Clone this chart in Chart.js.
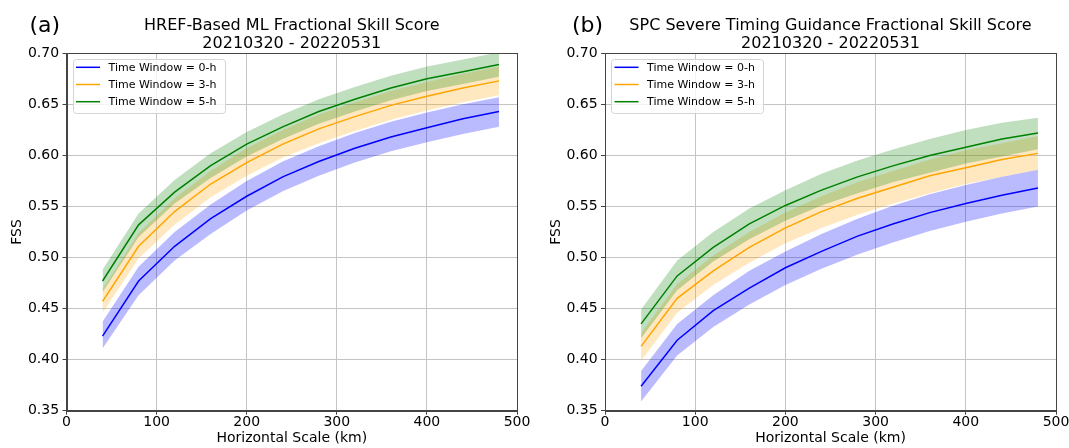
<!DOCTYPE html>
<html lang="en">
<head>
  <meta charset="UTF-8" />
  <title>Fractional Skill Score</title>
  <script src="https://cdn.jsdelivr.net/npm/chart.js"></script>
  <style>
    body {
      margin: 0;
      background: #fff;
      width: 1069px;
      height: 448px;
      overflow: hidden;
      position: relative;
    }
    .panel { position: absolute; top: 0; height: 448px; }
    #panelA { left: 0; width: 535px; }
    #panelB { left: 535px; width: 540px; }
  </style>
</head>
<body>
  <div class="panel" id="panelA"><canvas id="chartA"></canvas></div>
  <div class="panel" id="panelB"><canvas id="chartB"></canvas></div>

  <script>
    // horizontal scale (km)
    const scalesKm = [40, 80, 120, 160, 200, 240, 280, 320, 360, 400, 440, 480];
    const windowLabels = ["Time Window = 0-h", "Time Window = 3-h", "Time Window = 5-h"];

    // (a) HREF-based ML
    const hrefMean0 = [0.423, 0.477, 0.511, 0.538, 0.560, 0.579, 0.594, 0.607, 0.618, 0.627, 0.636, 0.643];
    const hrefLow0  = [0.411, 0.463, 0.497, 0.523, 0.546, 0.565, 0.580, 0.593, 0.604, 0.613, 0.621, 0.628];
    const hrefHigh0 = [0.437, 0.491, 0.525, 0.552, 0.575, 0.594, 0.609, 0.622, 0.633, 0.642, 0.650, 0.657];
    const hrefMean3 = [0.457, 0.511, 0.545, 0.572, 0.593, 0.611, 0.626, 0.638, 0.649, 0.658, 0.666, 0.673];
    const hrefLow3  = [0.446, 0.499, 0.532, 0.559, 0.580, 0.598, 0.612, 0.624, 0.635, 0.644, 0.652, 0.659];
    const hrefHigh3 = [0.469, 0.524, 0.558, 0.585, 0.607, 0.625, 0.640, 0.652, 0.663, 0.672, 0.680, 0.687];
    const hrefMean5 = [0.477, 0.532, 0.564, 0.590, 0.611, 0.628, 0.643, 0.655, 0.666, 0.675, 0.682, 0.689];
    const hrefLow5  = [0.466, 0.520, 0.553, 0.578, 0.599, 0.616, 0.631, 0.643, 0.654, 0.663, 0.670, 0.677];
    const hrefHigh5 = [0.488, 0.543, 0.576, 0.602, 0.623, 0.640, 0.655, 0.667, 0.678, 0.687, 0.694, 0.701];

    // (b) SPC severe timing guidance
    const spcMean0 = [0.374, 0.419, 0.448, 0.470, 0.490, 0.506, 0.521, 0.533, 0.544, 0.553, 0.561, 0.568];
    const spcLow0  = [0.359, 0.404, 0.432, 0.454, 0.473, 0.489, 0.503, 0.515, 0.526, 0.535, 0.543, 0.550];
    const spcHigh0 = [0.389, 0.435, 0.463, 0.487, 0.506, 0.523, 0.538, 0.551, 0.562, 0.571, 0.579, 0.586];
    const spcMean3 = [0.413, 0.460, 0.487, 0.510, 0.529, 0.545, 0.558, 0.569, 0.580, 0.588, 0.596, 0.602];
    const spcLow3  = [0.399, 0.446, 0.473, 0.495, 0.514, 0.529, 0.542, 0.553, 0.563, 0.572, 0.579, 0.586];
    const spcHigh3 = [0.426, 0.474, 0.502, 0.525, 0.544, 0.560, 0.574, 0.585, 0.596, 0.605, 0.612, 0.619];
    const spcMean5 = [0.435, 0.482, 0.510, 0.533, 0.551, 0.566, 0.579, 0.590, 0.600, 0.608, 0.616, 0.622];
    const spcLow5  = [0.421, 0.468, 0.496, 0.518, 0.536, 0.551, 0.563, 0.574, 0.583, 0.592, 0.599, 0.606];
    const spcHigh5 = [0.449, 0.497, 0.525, 0.548, 0.566, 0.582, 0.595, 0.606, 0.616, 0.625, 0.632, 0.637];

    const lineColors = ["#0000ff", "#ffa500", "#008000"];
    const bandColors = ["rgba(0, 0, 255, 0.27)", "rgba(255, 165, 0, 0.25)", "rgba(0, 128, 0, 0.25)"];

    Chart.defaults.font.family = "'DejaVu Sans', sans-serif";
    Chart.defaults.color = "#000";

    const pts = arr => arr.map((v, i) => ({ x: scalesKm[i], y: v }));

    // frame, titles, panel letter and matplotlib-like legend
    const panelDeco = {
      id: "panelDeco",
      afterDraw(chart, args, opts) {
        const { ctx, chartArea: a } = chart;
        ctx.save();
        ctx.strokeStyle = "#444";
        ctx.lineWidth = 1;
        ctx.strokeRect(Math.round(a.left) + 0.5, Math.round(a.top) + 0.5,
          Math.round(a.right) - Math.round(a.left), Math.round(a.bottom) - Math.round(a.top));

        ctx.fillStyle = "#000";
        ctx.textBaseline = "middle";
        ctx.textAlign = "center";
        ctx.font = "16px 'DejaVu Sans'";
        const cx = (a.left + a.right) / 2;
        opts.title.forEach((t, i) => ctx.fillText(t, cx, 26 + i * 17.5));

        ctx.textAlign = "left";
        ctx.font = "22px 'DejaVu Sans'";
        ctx.fillText(opts.letter, opts.letterX, 26);

        // legend
        const lx = Math.round(a.left + 6) + 0.5, ly = Math.round(a.top + 5.7) + 0.5;
        ctx.beginPath();
        ctx.roundRect(lx, ly, 152, 54, 3);
        ctx.fillStyle = "rgba(255, 255, 255, 0.8)";
        ctx.fill();
        ctx.strokeStyle = "#d4d4d4";
        ctx.stroke();
        ctx.font = "11px 'DejaVu Sans'";
        const lines = chart.data.datasets.filter(d => d.label);
        lines.forEach((d, i) => {
          const y = a.top + 14 + i * 17.2;
          ctx.strokeStyle = d.borderColor;
          ctx.lineWidth = 1.5;
          ctx.beginPath();
          ctx.moveTo(a.left + 9.5, y);
          ctx.lineTo(a.left + 33.5, y);
          ctx.stroke();
          ctx.fillStyle = "#000";
          ctx.fillText(d.label, a.left + 42, y + 0.5);
        });
        ctx.restore();
      }
    };

    function makeChart(id, means, lows, highs, deco, pad) {
      const datasets = [];
      means.forEach((m, i) => {
        datasets.push({
          label: windowLabels[i],
          data: pts(m),
          borderColor: lineColors[i],
          borderWidth: 1.5,
          pointRadius: 0,
          fill: false
        });
      });
      // bands: green on top of orange on top of blue
      [2, 1, 0].forEach(i => {
        datasets.push({
          label: "",
          data: pts(highs[i]),
          borderWidth: 0,
          pointRadius: 0,
          backgroundColor: bandColors[i],
          fill: "+1"
        });
        datasets.push({
          label: "",
          data: pts(lows[i]),
          borderWidth: 0,
          pointRadius: 0,
          fill: false
        });
      });

      return new Chart(document.getElementById(id), {
        type: "line",
        data: { datasets },
        plugins: [panelDeco],
        options: {
          responsive: true,
          maintainAspectRatio: false,
          animation: false,
          layout: { padding: pad },
          plugins: {
            legend: { display: false },
            tooltip: { enabled: false },
            panelDeco: deco
          },
          scales: {
            x: {
              type: "linear",
              min: 0,
              max: 500,
              afterFit(s) { s.height = 37.3; },
              ticks: { stepSize: 100, padding: -1, color: "#000", font: { size: 14 }, maxRotation: 0 },
              grid: { color: "#c4c4c4", tickLength: 4, tickColor: "#444", tickWidth: 1 },
              border: { display: true, color: "#444" },
              title: { display: true, text: "Horizontal Scale (km)", font: { size: 14 }, color: "#000", padding: { top: 0, bottom: 1 } }
            },
            y: {
              type: "linear",
              min: 0.35,
              max: 0.70,
              afterFit(s) { s.width = 58; },
              ticks: { stepSize: 0.05, padding: 3.4, color: "#000", font: { size: 14 }, callback: v => v.toFixed(2) },
              grid: { color: "#c4c4c4", tickLength: 4, tickColor: "#444", tickWidth: 1 },
              border: { display: true, color: "#444" },
              title: { display: true, text: "FSS", font: { size: 14 }, color: "#000", padding: { top: 0.6, bottom: 0 } }
            }
          }
        }
      });
    }

    makeChart("chartA",
      [hrefMean0, hrefMean3, hrefMean5],
      [hrefLow0, hrefLow3, hrefLow5],
      [hrefHigh0, hrefHigh3, hrefHigh5],
      { letter: "(a)", letterX: 29.5, title: ["HREF-Based ML Fractional Skill Score", "20210320 - 20220531"] },
      { left: 8.5, right: 18, top: 53.3, bottom: 0 });

    makeChart("chartB",
      [spcMean0, spcMean3, spcMean5],
      [spcLow0, spcLow3, spcLow5],
      [spcHigh0, spcHigh3, spcHigh5],
      { letter: "(b)", letterX: 37, title: ["SPC Severe Timing Guidance Fractional Skill Score", "20210320 - 20220531"] },
      { left: 12, right: 19, top: 53.3, bottom: 0 });
  </script>
</body>
</html>
